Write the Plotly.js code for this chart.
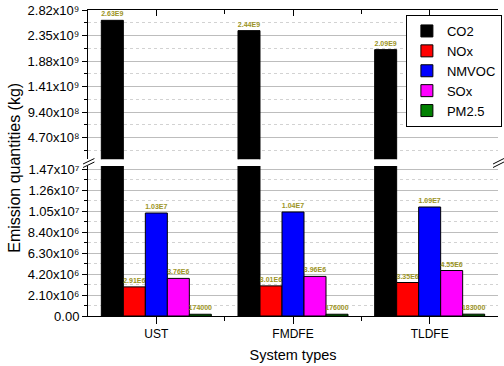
<!DOCTYPE html>
<html><head><meta charset="utf-8">
<script src="https://cdn.plot.ly/plotly-3.0.1.min.js"></script>
<style>html,body{margin:0;padding:0;background:#fff}#chart{width:504px;height:366px}</style>
</head><body><div id="chart"></div>
<script>
const categories = ['UST', 'FMDFE', 'TLDFE'];
const seriesNames = ['CO2', 'NOx', 'NMVOC', 'SOx', 'PM2.5'];
const co2 = [2.63e9, 2.44e9, 2.09e9];
const nox = [2.91e6, 3.01e6, 3.35e6];
const nmvoc = [1.03e7, 1.04e7, 1.09e7];
const sox = [3.76e6, 3.96e6, 4.55e6];
const pm25 = [174000, 176000, 183000];
const lowTickVals = [0, 2.1e6, 4.2e6, 6.3e6, 8.4e6, 1.05e7, 1.26e7, 1.47e7];
const lowTickText = ['0.00', '2.10x10\u2076', '4.20x10\u2076', '6.30x10\u2076', '8.40x10\u2076', '1.05x10\u2077', '1.26x10\u2077', '1.47x10\u2077'];
const highTickVals = [4.7e8, 9.4e8, 1.41e9, 1.88e9, 2.35e9, 2.82e9];
const highTickText = ['4.70x10\u2078', '9.40x10\u2078', '1.41x10\u2079', '1.88x10\u2079', '2.35x10\u2079', '2.82x10\u2079'];

const seriesValues = [co2, nox, nmvoc, sox, pm25];
const colors = ['#000000', '#ff0000', '#0000ff', '#ff00ff', '#008000'];
const labelColor = '#9c9425';
const labelFont = { size: 7, color: labelColor, weight: 'bold' };
const xIdx = categories.map((c, i) => i);
const xMid = xIdx.slice(1).map(i => i - 0.5);

function fmt(v) { return v >= 1e6 ? v.toExponential(2).replace('e+', 'E') : String(v); }

const traces = seriesValues.map((vals, i) => {
  const t = {
    type: 'bar', x: xIdx, y: vals, name: seriesNames[i], xaxis: 'x', yaxis: 'y',
    marker: { color: colors[i], line: { color: '#000', width: 1 } }
  };
  if (i > 0) {
    Object.assign(t, { text: vals.map(fmt), textposition: 'outside', textangle: 0, constraintext: 'none', textfont: labelFont });
  }
  return t;
});
traces.push({
  type: 'bar', x: xIdx, y: co2, name: seriesNames[0], xaxis: 'x2', yaxis: 'y2', showlegend: false,
  width: 0.161, offset: -0.4025,
  marker: { color: colors[0], line: { color: '#000', width: 1 } },
  text: co2.map(fmt), textposition: 'outside', textangle: 0, constraintext: 'none', textfont: labelFont
});

const L = 88, R = 502, T = 10, B = 316;
const px = v => (v - L) / (R - L);
const py = v => (B - v) / (B - T);
function slash(x0, y0, x1, y1) {
  return { type: 'line', xref: 'paper', yref: 'paper', x0: px(x0), y0: py(y0), x1: px(x1), y1: py(y1), line: { color: '#000', width: 1 } };
}

const yCommon = {
  tickmode: 'array', ticks: 'outside', ticklen: 5, tickcolor: '#000', showline: true, linecolor: '#000',
  showgrid: true, gridcolor: '#bdbdbd', zeroline: false, tickfont: { size: 13 }
};
const layout = {
  width: 504, height: 366, margin: { l: L, r: 504 - R, t: T, b: 366 - B },
  paper_bgcolor: '#fff', plot_bgcolor: '#fff',
  barmode: 'group', bargap: 0.195, bargroupgap: 0,
  font: { family: 'Liberation Sans, Arial, sans-serif', color: '#000' },
  showlegend: true,
  legend: { x: px(409), y: py(15), xanchor: 'left', yanchor: 'top', bordercolor: '#000', borderwidth: 1, bgcolor: '#fff', font: { size: 13 }, tracegroupgap: 0, itemwidth: 30 },
  xaxis: {
    anchor: 'y', range: [-0.5, 2.5], tickmode: 'array', tickvals: xIdx, ticktext: categories,
    ticks: 'outside', ticklen: 7, tickcolor: '#000', showline: true, linecolor: '#000', showgrid: false, zeroline: false,
    tickfont: { size: 12 },
    minor: { tickmode: 'array', tickvals: xMid, ticks: 'outside', ticklen: 4, tickcolor: '#000', showgrid: false },
    title: { text: 'System types', font: { size: 14.5 }, standoff: 9 }
  },
  xaxis2: {
    anchor: 'y2', matches: 'x', side: 'top', tickmode: 'array', tickvals: xIdx, ticks: 'inside', ticklen: 6, tickcolor: '#000',
    showticklabels: false, showline: true, linecolor: '#000', showgrid: false, zeroline: false,
    minor: { tickmode: 'array', tickvals: xMid, ticks: 'inside', ticklen: 4, tickcolor: '#000', showgrid: false }
  },
  yaxis: Object.assign({}, yCommon, {
    anchor: 'x', domain: [0, py(166)], range: [0, 1.5e7], tickvals: lowTickVals, ticktext: lowTickText,
    minor: { tickmode: 'linear', tick0: 0, dtick: 1.05e6, ticks: 'outside', ticklen: 3, tickcolor: '#000', showgrid: true, gridcolor: '#d2d2d2', griddash: 'dot' }
  }),
  yaxis2: Object.assign({}, yCommon, {
    anchor: 'x2', domain: [py(159.3), 1], range: [7e7, 2.82e9], tickvals: highTickVals, ticktext: highTickText,
    minor: { tickmode: 'linear', tick0: 0, dtick: 2.35e8, ticks: 'outside', ticklen: 3, tickcolor: '#000', showgrid: true, gridcolor: '#d2d2d2', griddash: 'dot' }
  }),
  yaxis3: {
    overlaying: 'y', anchor: 'x', side: 'right', range: [0, 1.5e7], tickmode: 'array', tickvals: lowTickVals,
    ticks: 'inside', ticklen: 5, tickcolor: '#000', showticklabels: false, showline: true, linecolor: '#000', showgrid: false, zeroline: false,
    minor: { tickmode: 'linear', tick0: 0, dtick: 1.05e6, ticks: 'inside', ticklen: 3, tickcolor: '#000', showgrid: false }
  },
  yaxis4: {
    overlaying: 'y2', anchor: 'x2', side: 'right', range: [7e7, 2.82e9], tickmode: 'array', tickvals: highTickVals,
    ticks: 'inside', ticklen: 5, tickcolor: '#000', showticklabels: false, showline: true, linecolor: '#000', showgrid: false, zeroline: false,
    minor: { tickmode: 'linear', tick0: 0, dtick: 2.35e8, ticks: 'inside', ticklen: 3, tickcolor: '#000', showgrid: false }
  },
  annotations: [{
    text: 'Emission quantities (kg)', xref: 'paper', yref: 'paper', x: px(14), y: py(168),
    xanchor: 'center', yanchor: 'middle', textangle: -90, showarrow: false, font: { size: 16 }
  }],
  shapes: [
    slash(83, 164, 94.5, 158.5), slash(83, 167.5, 94.5, 162),
    slash(497, 164, 508, 158.5), slash(497, 167.5, 508, 162)
  ]
};
Plotly.newPlot('chart', traces, layout, { displayModeBar: false, staticPlot: true });
</script>
</body></html>
